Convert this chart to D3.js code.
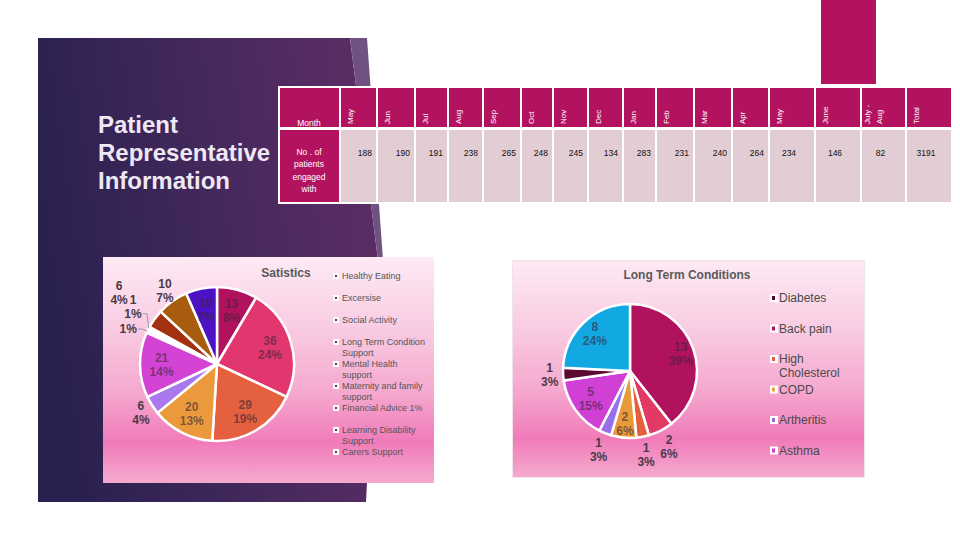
<!DOCTYPE html>
<html><head><meta charset="utf-8">
<script src="https://cdn.jsdelivr.net/npm/d3@7"></script>
<style>
body{margin:0;background:#fff}
svg{display:block}
text{font-family:"Liberation Sans",Arial,sans-serif}
</style></head>
<body><svg id="c" width="960" height="540"></svg>
<script>
// ---------------- DATA ----------------
const titleLines = ["Patient","Representative","Information"];
const months = ["May","Jun","Jul","Aug","Sep","Oct","Nov","Dec","Jan","Feb","Mar","Apr","May","June","July -\nAug","Total"];
const patients = [188,190,191,238,265,248,245,134,283,231,240,264,234,146,82,3191];
const rowHeader = "Month";
const rowLabel = ["No . of","patients","engaged","with"];

const statTitle = "Satistics";
const statValues = [13,36,29,20,6,21,1,1,6,10,10];
const statLegend = ["Healthy Eating","Excersise","Social Activity","Long Term Condition\nSupport","Mental Health\nsupport","Maternity and family\nsupport","Financial Advice 1%","Learning Disability\nSupport","Carers Support"];

const ltcTitle = "Long Term Conditions";
const ltcValues = [13,2,1,2,1,5,1,8];
const ltcLegend = ["Diabetes","Back pain","High\nCholesterol","COPD","Artheritis","Asthma"];

// ---------------- STYLES / LAYOUT ----------------
const MAG = "#b3125f", CELL = "#e3cdd4";
const statColors = ["#b0125e","#e2366e","#e4603e","#ea9a3c","#a878ec","#d444d4","#fbe4f2","#ffffff","#a3300e","#a85c0e","#4c12c4"];
const ltcColors = ["#b0125e","#e23a64","#e4603c","#e89a3a","#9a70ea","#d040d4","#5a0a30","#12a8e2"];
const ltcLegendColors = ["#5a0a30","#b0125e","#e06040","#e8a040","#9070e0","#d040d0"];
const colWidths = [37,38,33,35,38,32,35,35,33,38,38,37,46,46,45,46];

const svg = d3.select("#c");
const defs = svg.append("defs");

// purple panel
const pg = defs.append("linearGradient").attr("id","pg").attr("x1",0).attr("y1",0.2).attr("x2",1).attr("y2",0);
pg.append("stop").attr("offset",0).attr("stop-color","#2b2150");
pg.append("stop").attr("offset",0.5).attr("stop-color","#45295d");
pg.append("stop").attr("offset",1).attr("stop-color","#5f2d66");
svg.append("path").attr("d","M38,38 L350,38 L378,260 L366,502 L38,502 Z").attr("fill","url(#pg)");
svg.append("path").attr("d","M350,38 L367,38 L383,260 L378,260 Z").attr("fill","#6f5282");

// box gradient
const bg = defs.append("linearGradient").attr("id","bg").attr("x1",0).attr("y1",0).attr("x2",0).attr("y2",1);
[[0,"#fdeaf4"],[0.3,"#f9cde3"],[0.6,"#f5a8cf"],[0.82,"#f07bb9"],[1,"#f5aacf"]].forEach(s=>bg.append("stop").attr("offset",s[0]).attr("stop-color",s[1]));

// title
svg.append("text").attr("x",98).attr("y",133).attr("font-size",24).attr("font-weight","bold").attr("fill","#efe7f3")
  .selectAll("tspan").data(titleLines).join("tspan").attr("x",98).attr("dy",(d,i)=>i?28:0).text(d=>d);

// ---------------- TABLE ----------------
const tX = 341;
const edges = [tX, ...Array.from(d3.cumsum(colWidths), v=>tX+v)];
svg.append("rect").attr("x",278).attr("y",86).attr("width",edges[edges.length-1]-278).attr("height",118).attr("fill","#fff");
svg.append("rect").attr("x",821).attr("y",0).attr("width",55).attr("height",84).attr("fill",MAG);
const hY = 88, hH = 39, dY = 130, dH = 72;
svg.append("rect").attr("x",280).attr("y",hY).attr("width",59).attr("height",hH).attr("fill",MAG);
svg.append("rect").attr("x",280).attr("y",dY).attr("width",59).attr("height",dH).attr("fill",MAG);
svg.append("text").attr("x",309).attr("y",126).attr("text-anchor","middle").attr("font-size",8.5).attr("fill","#fff").text(rowHeader);
svg.append("text").attr("font-size",8.5).attr("fill","#fff").attr("text-anchor","middle")
  .selectAll("tspan").data(rowLabel).join("tspan").attr("x",309).attr("y",(d,i)=>155+i*12.3).text(d=>d);

const cols = svg.append("g").selectAll("g").data(months).join("g");
cols.append("rect").attr("x",(d,i)=>edges[i]).attr("y",hY).attr("width",(d,i)=>edges[i+1]-edges[i]-2).attr("height",hH).attr("fill",MAG);
cols.append("rect").attr("x",(d,i)=>edges[i]).attr("y",dY).attr("width",(d,i)=>edges[i+1]-edges[i]-2).attr("height",dH).attr("fill",CELL);
cols.each(function(d,i){
  const lines = d.split("\n");
  const g = d3.select(this);
  lines.forEach((ln,j)=>{
    const bx = edges[i] + (lines.length>1 ? 8 + j*12 : 12);
    g.append("text").attr("transform",`translate(${bx},124) rotate(-90)`).attr("font-size",8).attr("fill","#fff").text(ln);
  });
  const w = edges[i+1]-edges[i]-2;
  const wide = w > 40;
  g.append("text").attr("x", wide ? edges[i]+w/2-3 : edges[i]+w-4).attr("y",156)
    .attr("text-anchor", wide ? "middle" : "end").attr("font-size",8.5).attr("fill","#111").text(patients[i]);
});

// ---------------- PIE HELPERS ----------------
function polar(cx,cy,R,a){return [cx+R*Math.sin(a), cy-R*Math.cos(a)];}
function drawPie(cfg){
  const g = svg.append("g");
  const total = d3.sum(cfg.values);
  const arcs = d3.pie().sort(null).value(d=>d)(cfg.values);
  const arc = d3.arc().innerRadius(0).outerRadius(cfg.r);
  g.append("g").attr("transform",`translate(${cfg.cx},${cfg.cy})`)
    .selectAll("path").data(arcs).join("path").attr("d",arc)
    .attr("fill",(d,i)=>cfg.colors[i]).attr("stroke","#fff").attr("stroke-width",2.5).attr("stroke-linejoin","round");
  arcs.forEach((d,i)=>{
    const L = cfg.layout[i];
    const mid = (d.startAngle+d.endAngle)/2;
    const a = mid + (L.da||0)*Math.PI/180;
    const [lx,ly] = polar(cfg.cx,cfg.cy,cfg.r*L.k,a);
    const pct = Math.round(d.value/total*100)+"%";
    const inside = L.k < 1;
    const t = g.append("text").attr("text-anchor","middle").attr("font-size",12).attr("font-weight","bold")
      .attr("fill", inside ? "#3a2636" : "#4a3a46").attr("fill-opacity", inside ? 0.62 : 1);
    if (L.noValue){
      t.append("tspan").attr("x",lx).attr("y",ly+4.3).text(pct);
    } else {
      t.append("tspan").attr("x",lx).attr("y",ly-2.7).text(d.value);
      t.append("tspan").attr("x",lx).attr("y",ly+11.3).text(pct);
    }
    if (L.leader){
      const py = L.noValue ? ly : ly+7;
      const [ex,ey] = polar(cfg.cx,cfg.cy,cfg.r,mid);
      g.append("polyline").attr("points",`${lx+10},${py} ${lx+14},${py} ${ex},${ey}`)
        .attr("fill","none").attr("stroke","#8c8296").attr("stroke-width",0.8);
    }
  });
}

// ---------------- STATISTICS BOX ----------------
svg.append("rect").attr("x",103).attr("y",257).attr("width",331).attr("height",226).attr("fill","url(#bg)");
svg.append("text").attr("x",286).attr("y",277).attr("text-anchor","middle").attr("font-size",12).attr("font-weight","bold").attr("fill","#5a5a5a").text(statTitle);
drawPie({cx:217,cy:364,r:77,values:statValues,colors:statColors,
  layout:[{k:.72},{k:.72},{k:.72},{k:.72},{k:1.17},{k:.72},{k:1.24,da:-3.8,noValue:true,leader:true},{k:1.32,da:6.6,leader:true},{k:1.57},{k:1.17},{k:.72}]});
const lg1 = svg.append("g").selectAll("g").data(statLegend).join("g").attr("transform",(d,i)=>`translate(0,${276+i*22})`);
lg1.append("rect").attr("x",333).attr("y",-3).attr("width",6).attr("height",6).attr("fill","#fff");
lg1.append("rect").attr("x",335).attr("y",-1).attr("width",2).attr("height",2).attr("fill","#5a3a50");
lg1.append("text").attr("font-size",9).attr("fill","#555").each(function(d){
  d3.select(this).selectAll("tspan").data(d.split("\n")).join("tspan").attr("x",342).attr("y",(s,j)=>3.2+j*11).text(s=>s);
});

// ---------------- LONG TERM CONDITIONS BOX ----------------
svg.append("rect").attr("x",512.5).attr("y",260.5).attr("width",352).attr("height",217).attr("fill","url(#bg)").attr("stroke","#eee4ea").attr("stroke-width",1);
svg.append("text").attr("x",687).attr("y",279).attr("text-anchor","middle").attr("font-size",12).attr("font-weight","bold").attr("fill","#5a5a5a").text(ltcTitle);
drawPie({cx:630,cy:371,r:67,values:ltcValues,colors:ltcColors,
  layout:[{k:.8},{k:1.27},{k:1.27},{k:.79},{k:1.26},{k:.72},{k:1.2},{k:.76}]});
const lg2 = svg.append("g").selectAll("g").data(ltcLegend).join("g").attr("transform",(d,i)=>`translate(0,${298+i*30.5})`);
lg2.append("rect").attr("x",770).attr("y",-4).attr("width",8).attr("height",8).attr("fill","#fff");
lg2.append("rect").attr("x",772).attr("y",-2).attr("width",3).attr("height",4).attr("fill",(d,i)=>ltcLegendColors[i]);
lg2.append("text").attr("font-size",12).attr("fill","#4a4a4a").each(function(d){
  d3.select(this).selectAll("tspan").data(d.split("\n")).join("tspan").attr("x",779).attr("y",(s,j)=>4.3+j*14).text(s=>s);
});
</script></body></html>
